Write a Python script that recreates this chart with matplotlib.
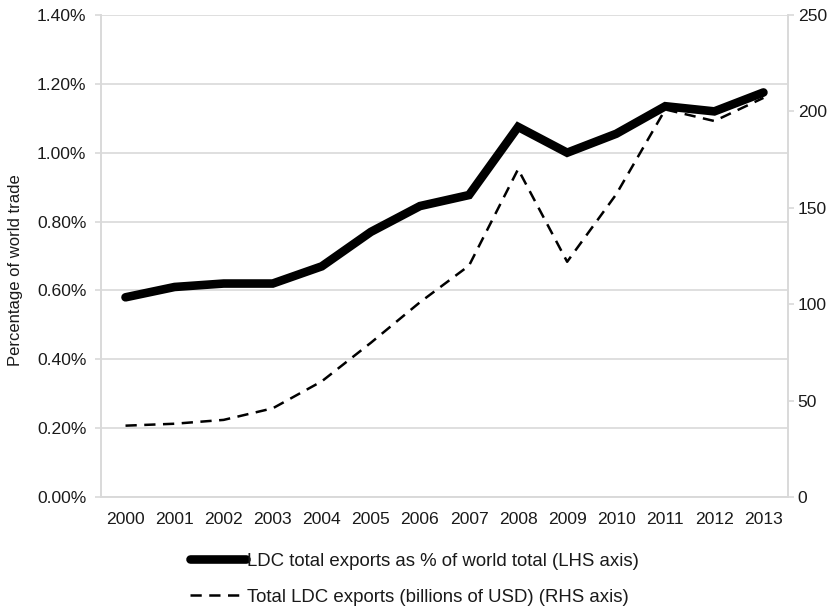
import matplotlib.pyplot as plt
from matplotlib.ticker import FuncFormatter

plt.rcParams['font.family'] = ['Liberation Sans', 'DejaVu Sans']

# data
years = [2000, 2001, 2002, 2003, 2004, 2005, 2006, 2007, 2008, 2009, 2010, 2011, 2012, 2013]
share_pct = [0.58, 0.61, 0.62, 0.62, 0.67, 0.77, 0.845, 0.877, 1.075, 1.00, 1.055, 1.135, 1.12, 1.175]
exports_bn = [37, 38, 40, 46, 60, 80, 101, 120, 170, 122, 157, 201, 195, 207]

grid_c = '#d9d9d9'
txt_c = '#1a1a1a'
fs = 12.6

fig = plt.figure(figsize=(8.38, 6.09), dpi=100)
ax = fig.add_axes([0.1205, 0.1839, 0.8198, 0.7915])
ax2 = ax.twinx()

x = list(range(len(years)))
l1, = ax.plot(x, share_pct, color='black', lw=6.2, solid_capstyle='round',
              solid_joinstyle='miter', zorder=3,
              label='LDC total exports as % of world total (LHS axis)')
l2, = ax2.plot(x, exports_bn, color='black', lw=1.8, dashes=(4.5, 3),
               label='Total LDC exports (billions of USD) (RHS axis)')

ax.set_xlim(-0.5, len(years) - 0.5)
ax.set_ylim(0, 1.4)
ax.set_yticks([0, 0.2, 0.4, 0.6, 0.8, 1.0, 1.2, 1.4])
ax.yaxis.set_major_formatter(FuncFormatter(lambda v, p: '{:.2f}%'.format(v)))
ax.set_xticks(x)
ax.set_xticklabels([str(y) for y in years])
ax.grid(axis='y', color=grid_c, lw=1.2)
ax.set_axisbelow(True)

ax2.set_ylim(0, 250)
ax2.set_yticks([0, 50, 100, 150, 200, 250])

for a in (ax, ax2):
    for s in a.spines.values():
        s.set_color(grid_c)
        s.set_linewidth(1.2)
    a.spines['top'].set_visible(False)
    a.tick_params(colors=grid_c, labelcolor=txt_c, labelsize=fs, width=1.2, length=4)
ax.tick_params(axis='x', length=0, pad=11)
ax.tick_params(axis='y', pad=6.5)
ax2.tick_params(axis='y', pad=3)

ax.set_ylabel('Percentage of world trade', fontsize=12, color=txt_c)
ax.yaxis.set_label_coords(-0.113, 0.47)

leg = fig.legend(handles=[l1, l2], loc='lower center', bbox_to_anchor=(0.495, -0.022),
                 frameon=False, fontsize=13.4, labelspacing=1.0, handlelength=3.0,
                 handletextpad=0.05, labelcolor=txt_c)

fig.savefig('out.png', dpi=100)
